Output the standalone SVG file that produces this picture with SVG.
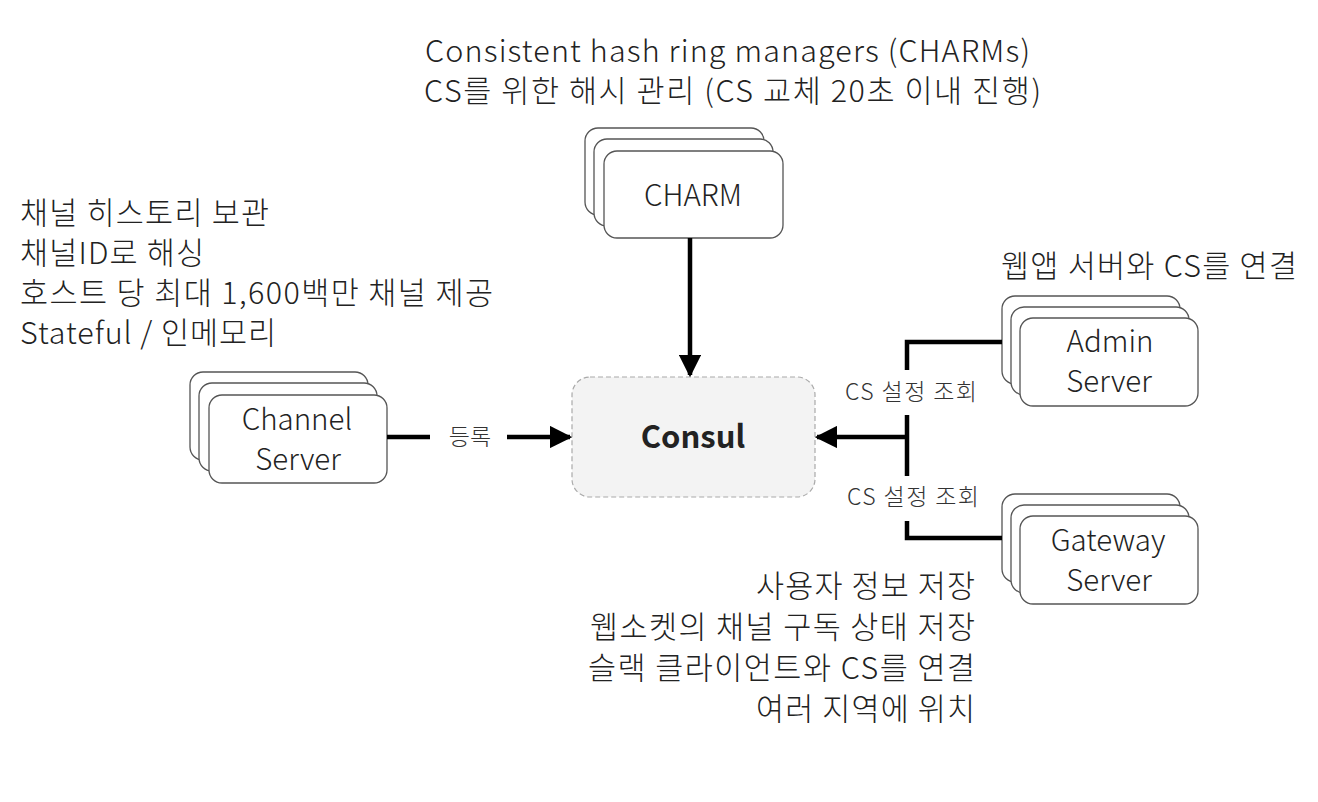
<svg xmlns="http://www.w3.org/2000/svg" width="1318" height="802" viewBox="0 0 1318 802">
<defs>
<style>
text{font-family:"Noto Sans CJK KR","Open Sans",sans-serif;fill:#222;font-weight:300;}
.big{font-size:30.5px;}
.node{font-size:29.5px;text-anchor:middle;}
.lbl{font-size:23px;text-anchor:middle;fill:#333;}
.card{fill:#fff;stroke:#555;stroke-width:1.3;}
.conn{fill:none;stroke:#000;stroke-width:4.5;}
</style>
<marker id="ah" viewBox="0 0 10 10" refX="9" refY="5" markerWidth="5" markerHeight="5" orient="auto" markerUnits="strokeWidth">
<path d="M0,0 L10,5 L0,10 z" fill="#000"/>
</marker>
</defs>
<rect width="1318" height="802" fill="#fff"/>

<g id="title">
<text class="big"><tspan x="425" y="62" textLength="605" lengthAdjust="spacing">Consistent hash ring managers (CHARMs)</tspan><tspan x="424" y="102" textLength="617" lengthAdjust="spacing">CS를 위한 해시 관리 (CS 교체 20초 이내 진행)</tspan></text>
</g>

<g id="left-notes">
<text class="big"><tspan x="20" y="224" textLength="249" lengthAdjust="spacing">채널 히스토리 보관</tspan><tspan x="20" y="264" textLength="184" lengthAdjust="spacing">채널ID로 해싱</tspan><tspan x="20" y="304" textLength="473" lengthAdjust="spacing">호스트 당 최대 1,600백만 채널 제공</tspan><tspan x="20" y="344" textLength="256" lengthAdjust="spacing">Stateful / 인메모리</tspan></text>
</g>

<g id="admin-note">
<text class="big" x="1001" y="277" textLength="296" lengthAdjust="spacing">웹앱 서버와 CS를 연결</text>
</g>

<g id="gateway-note">
<text class="big"><tspan x="756" y="597" textLength="219" lengthAdjust="spacing">사용자 정보 저장</tspan><tspan x="590" y="638" textLength="385" lengthAdjust="spacing">웹소켓의 채널 구독 상태 저장</tspan><tspan x="588" y="679" textLength="387" lengthAdjust="spacing">슬랙 클라이언트와 CS를 연결</tspan><tspan x="756" y="720" textLength="219" lengthAdjust="spacing">여러 지역에 위치</tspan></text>
</g>

<g id="charm">
<rect class="card" x="585" y="128" width="179" height="87" rx="13"/>
<rect class="card" x="594" y="139" width="179" height="87" rx="13"/>
<rect class="card" x="604" y="151" width="179" height="87" rx="13"/>
<text class="node" x="693" y="206">CHARM</text>
</g>

<g id="consul">
<rect x="572" y="377" width="243" height="120" rx="18" fill="#f3f3f3" stroke="#aaa" stroke-width="1.2" stroke-dasharray="5,3"/>
<text x="693" y="448" text-anchor="middle" style="font-size:31px;font-weight:bold">Consul</text>
</g>

<g id="channel-server">
<rect class="card" x="190" y="372" width="178" height="88" rx="13"/>
<rect class="card" x="199" y="383" width="178" height="88" rx="13"/>
<rect class="card" x="209" y="395" width="178" height="88" rx="13"/>
<text class="node"><tspan x="297" y="430">Channel</tspan><tspan x="298" y="470">Server</tspan></text>
</g>

<g id="admin-server">
<rect class="card" x="1002" y="296" width="178" height="88" rx="13"/>
<rect class="card" x="1011" y="307" width="178" height="88" rx="13"/>
<rect class="card" x="1020" y="318" width="178" height="88" rx="13"/>
<text class="node"><tspan x="1110" y="352">Admin</tspan><tspan x="1109" y="392">Server</tspan></text>
</g>

<g id="gateway-server">
<rect class="card" x="1002" y="494" width="178" height="88" rx="13"/>
<rect class="card" x="1011" y="505" width="178" height="88" rx="13"/>
<rect class="card" x="1020" y="516" width="178" height="88" rx="13"/>
<text class="node"><tspan x="1108" y="551">Gateway</tspan><tspan x="1109" y="591">Server</tspan></text>
</g>

<g id="connectors">
<path class="conn" d="M690,238 L690,375" marker-end="url(#ah)"/>
<path class="conn" d="M387,437 L430,437"/>
<text class="lbl" x="470" y="445">등록</text>
<path class="conn" d="M507,437 L570,437" marker-end="url(#ah)"/>
<path class="conn" d="M1002,342 L907,342 L907,370"/>
<text class="lbl" x="845" y="400" style="text-anchor:start" textLength="132" lengthAdjust="spacing">CS 설정 조회</text>
<path class="conn" d="M907,415 L907,476"/>
<path class="conn" d="M907,437 L817,437" marker-end="url(#ah)"/>
<text class="lbl" x="847" y="505" style="text-anchor:start" textLength="132" lengthAdjust="spacing">CS 설정 조회</text>
<path class="conn" d="M907,521 L907,538 L1002,538"/>
</g>
</svg>
